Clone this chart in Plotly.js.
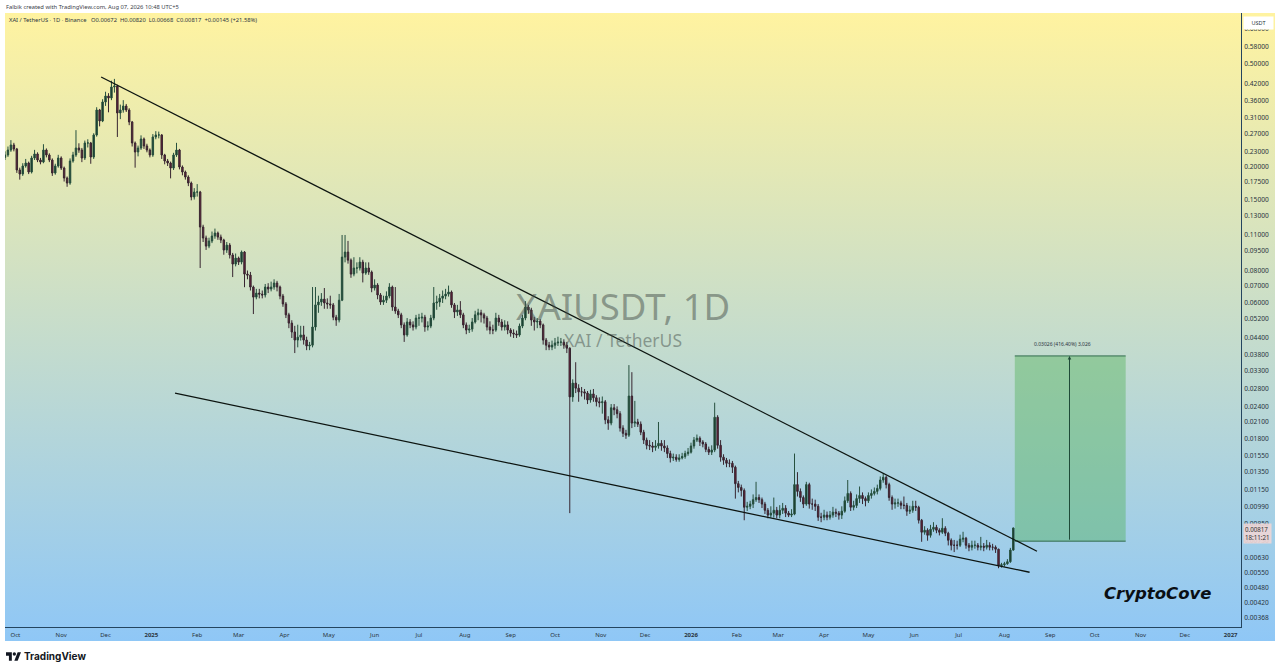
<!DOCTYPE html>
<html>
<head>
<meta charset="utf-8">
<title>XAIUSDT 1D</title>
<script src="https://cdn.plot.ly/plotly-3.0.1.min.js"></script>
<style>
  html, body { margin: 0; padding: 0; background: #ffffff; overflow: hidden; }
  #bg { position: absolute; left: 5px; top: 13px; width: 1270px; height: 628px;
        background: linear-gradient(to bottom, #fff3a0, #8fc7f6); }
  #chart { position: absolute; left: 0; top: 0; width: 1280px; height: 671px; }
  #logo { position: absolute; left: 6px; top: 652px; }
</style>
</head>
<body>
<div id="bg"></div>
<div id="chart"></div>
<svg id="logo" width="15" height="9" viewBox="0 0 36 20">
  <path d="M14 20H7V8H0V0h14z M28 20h-8L28 0h8z" fill="#131722"/>
  <circle cx="20" cy="4" r="4" fill="#131722"/>
</svg>
<script>
// candles are read every second day off the picture
let firstDay = '2024-09-24'
let stepDays = 2

let closes = [
  .2227,.2327,.2433,.2348,.1950,.1881,.2020,.2074,.1915,.2168,
  .2247,.2130,.2092,.2327,.2227,.2130,.1898,.2020,.2168,.1984,
  .1816,.1737,.2111,.2227,.2369,.2327,.2168,.2477,.2477,.2187,
  .2659,.3318,.3010,.3562,.3756,.3690,.4068,.4104,.3231,.3318,
  .3437,.3318,.2983,.2477,.2287,.2369,.2566,.2412,.2327,.2227,
  .2612,.2659,.2659,.2227,.2111,.2074,.1984,.2227,.2327,.2002,
  .1915,.1832,.1737,.1535,.1604,.1604,.1176,.1067,.0993,.1039,
  .1086,.1115,.1076,.1048,.0959,.1002,.0918,.0847,.0893,.0862,
  .0942,.0775,.0768,.0691,.0632,.0655,.0649,.0644,.0691,.0679,
  .0691,.0716,.0691,.0638,.0595,.0540,.0502,.0464,.0432,.0443,
  .0452,.0432,.0410,.0413,.0485,.0590,.0605,.0621,.0600,.0595,
  .0590,.0529,.0516,.0615,.0901,.0942,.0877,.0775,.0818,.0818,
  .0862,.0782,.0818,.0789,.0685,.0703,.0644,.0605,.0615,.0638,
  .0691,.0579,.0559,.0540,.0494,.0452,.0507,.0494,.0485,.0525,
  .0525,.0529,.0485,.0489,.0525,.0600,.0605,.0626,.0638,.0649,
  .0661,.0590,.0554,.0564,.0540,.0494,.0472,.0476,.0507,.0540,
  .0550,.0540,.0525,.0485,.0472,.0472,.0525,.0507,.0485,.0494,
  .0472,.0460,.0456,.0452,.0489,.0525,.0579,.0564,.0516,.0507,
  .0511,.0494,.0432,.0413,.0406,.0413,.0421,.0424,.0424,.0413,
  .0402,.0261,.0295,.0282,.0273,.0273,.0270,.0254,.0268,.0259,
  .0250,.0248,.0250,.0213,.0207,.0237,.0233,.0225,.0198,.0189,
  .0186,.0263,.0207,.0209,.0205,.0191,.0178,.0170,.0169,.0167,
  .0169,.0173,.0169,.0166,.0158,.0152,.0153,.0150,.0152,.0154,
  .0158,.0160,.0169,.0178,.0181,.0175,.0172,.0164,.0160,.0163,
  .0218,.0170,.0153,.0149,.0145,.0145,.0140,.0121,.0117,.0114,
  .00982,.00990,.0101,.0105,.0107,.0105,.0101,.00956,.00916,.00932,
  .00956,.00916,.00956,.00973,.00932,.00916,.00924,.0120,.0113,.0107,
  .0101,.0120,.0101,.0101,.00990,.00899,.00899,.00916,.00899,.00916,
  .00940,.00932,.00916,.00948,.0104,.0111,.00982,.00998,.0106,.0109,
  .0106,.0104,.0109,.0111,.0113,.0116,.0125,.0128,.0120,.0107,
  .0101,.0102,.0102,.0100,.00998,.00948,.00956,.00990,.00982,.00875,
  .00787,.00801,.00766,.00808,.00822,.00801,.00787,.00815,.00780,.00733,
  .00701,.00701,.00701,.00740,.00746,.00701,.00689,.00701,.00701,.00689,
  .00695,.00689,.00701,.00689,.00689,.00677,.00585,.00590,.00595,.00606,
  .00672,.00817
]

let opens = [
  .2180,.2227,.2327,.2433,.2348,.1950,.1881,.2020,.2074,.1915,
  .2168,.2247,.2130,.2092,.2327,.2227,.2130,.1898,.2020,.2168,
  .1984,.1816,.1737,.2111,.2227,.2369,.2327,.2168,.2477,.2477,
  .2187,.2659,.3318,.3010,.3562,.3756,.3690,.4068,.4104,.3231,
  .3318,.3437,.3318,.2983,.2477,.2287,.2369,.2566,.2412,.2327,
  .2227,.2612,.2659,.2659,.2227,.2111,.2074,.1984,.2227,.2327,
  .2002,.1915,.1832,.1737,.1535,.1604,.1604,.1176,.1067,.0993,
  .1039,.1086,.1115,.1076,.1048,.0959,.1002,.0918,.0847,.0893,
  .0862,.0942,.0775,.0768,.0691,.0632,.0655,.0649,.0644,.0691,
  .0679,.0691,.0716,.0691,.0638,.0595,.0540,.0502,.0464,.0432,
  .0443,.0452,.0432,.0410,.0413,.0485,.0590,.0605,.0621,.0600,
  .0595,.0590,.0529,.0516,.0615,.0901,.0942,.0877,.0775,.0818,
  .0818,.0862,.0782,.0818,.0789,.0685,.0703,.0644,.0605,.0615,
  .0638,.0691,.0579,.0559,.0540,.0494,.0452,.0507,.0494,.0485,
  .0525,.0525,.0529,.0485,.0489,.0525,.0600,.0605,.0626,.0638,
  .0649,.0661,.0590,.0554,.0564,.0540,.0494,.0472,.0476,.0507,
  .0540,.0550,.0540,.0525,.0485,.0472,.0472,.0525,.0507,.0485,
  .0494,.0472,.0460,.0456,.0452,.0489,.0525,.0579,.0564,.0516,
  .0507,.0511,.0494,.0432,.0413,.0406,.0413,.0421,.0424,.0424,
  .0413,.0402,.0261,.0295,.0282,.0273,.0273,.0270,.0254,.0268,
  .0259,.0250,.0248,.0250,.0213,.0207,.0237,.0233,.0225,.0198,
  .0189,.0186,.0263,.0207,.0209,.0205,.0191,.0178,.0170,.0169,
  .0167,.0169,.0173,.0169,.0166,.0158,.0152,.0153,.0150,.0152,
  .0154,.0158,.0160,.0169,.0178,.0181,.0175,.0172,.0164,.0160,
  .0163,.0218,.0170,.0153,.0149,.0145,.0145,.0140,.0121,.0117,
  .0114,.00982,.00990,.0101,.0105,.0107,.0105,.0101,.00956,.00916,
  .00932,.00956,.00916,.00956,.00973,.00932,.00916,.00924,.0120,.0113,
  .0107,.0101,.0120,.0101,.0101,.00990,.00899,.00899,.00916,.00899,
  .00916,.00940,.00932,.00916,.00948,.0104,.0111,.00982,.00998,.0106,
  .0109,.0106,.0104,.0109,.0111,.0113,.0116,.0125,.0128,.0120,
  .0107,.0101,.0102,.0102,.0100,.00998,.00948,.00956,.00990,.00982,
  .00875,.00787,.00801,.00766,.00808,.00822,.00801,.00787,.00815,.00780,
  .00733,.00701,.00701,.00701,.00740,.00746,.00701,.00689,.00701,.00701,
  .00689,.00695,.00689,.00701,.00689,.00689,.00677,.00585,.00590,.00595,
  .00606,.00672
]

let highs = [
  .2300,.2400,.2540,.2480,.2370,.1990,.2070,.2150,.2100,.2210,
  .2330,.2280,.2170,.2450,.2360,.2260,.2160,.2060,.2230,.2200,
  .2010,.1840,.2160,.2290,.2775,.2470,.2370,.2530,.2560,.2500,
  .2700,.3400,.3350,.3650,.3900,.3850,.4300,.4370,.4150,.3480,
  .3620,.3500,.3370,.3010,.2510,.2420,.2650,.2600,.2460,.2360,
  .2680,.2750,.2740,.2680,.2250,.2150,.2100,.2270,.2480,.2350,
  .2030,.1940,.1860,.1760,.1660,.1720,.1620,.1200,.1090,.1070,
  .1130,.1160,.1130,.1100,.1060,.1030,.1020,.0935,.0930,.0905,
  .0955,.0950,.0800,.0790,.0700,.0680,.0680,.0670,.0710,.0715,
  .0725,.0740,.0730,.0700,.0650,.0605,.0550,.0515,.0490,.0495,
  .0490,.0490,.0445,.0425,.0691,.0691,.0640,.0655,.0685,.0625,
  .0640,.0600,.0540,.0650,.1096,.1096,.1040,.0890,.0900,.0860,
  .0900,.0880,.0860,.0860,.0800,.0740,.0715,.0655,.0640,.0665,
  .0715,.0700,.0691,.0570,.0550,.0505,.0525,.0520,.0510,.0540,
  .0545,.0550,.0540,.0510,.0540,.0691,.0640,.0650,.0670,.0680,
  .0700,.0670,.0600,.0590,.0610,.0550,.0505,.0495,.0525,.0560,
  .0570,.0565,.0550,.0535,.0510,.0495,.0550,.0540,.0520,.0515,
  .0510,.0480,.0475,.0470,.0500,.0540,.0610,.0590,.0575,.0530,
  .0525,.0520,.0500,.0440,.0425,.0430,.0440,.0445,.0440,.0435,
  .0425,.0405,.0305,.0355,.0292,.0285,.0280,.0275,.0278,.0280,
  .0265,.0260,.0262,.0254,.0220,.0245,.0245,.0240,.0230,.0203,
  .0195,.0346,.0325,.0252,.0215,.0210,.0195,.0182,.0178,.0175,
  .0178,.0209,.0178,.0178,.0170,.0162,.0158,.0157,.0157,.0159,
  .0162,.0166,.0174,.0183,.0187,.0184,.0178,.0175,.0168,.0170,
  .0248,.0222,.0178,.0157,.0152,.0150,.0148,.0142,.0124,.0120,
  .0116,.0103,.0104,.0110,.0123,.0110,.0107,.0103,.00975,.00990,
  .0107,.00985,.0100,.0102,.0100,.00950,.00965,.0158,.0134,.0116,
  .0109,.0123,.0122,.0106,.0105,.0101,.00935,.00960,.00945,.00950,
  .00985,.00970,.00950,.00990,.0108,.0125,.0113,.0104,.0110,.0118,
  .0112,.0108,.0112,.0115,.0117,.0120,.0129,.0133,.0130,.0122,
  .0109,.0106,.0106,.0104,.0108,.0102,.00995,.0104,.0104,.00995,
  .00885,.00830,.00815,.00840,.00860,.00840,.00815,.00891,.00830,.00790,
  .00745,.00735,.00730,.00770,.00790,.00755,.00715,.00730,.00730,.00715,
  .00755,.00715,.00735,.00720,.00710,.00700,.00680,.00600,.00605,.00620,
  .00685,.00820
]

let lows = [
  .2130,.2190,.2290,.2300,.1900,.1790,.1850,.1990,.1880,.1890,
  .2130,.2090,.2050,.2070,.2180,.2090,.1850,.1870,.1990,.1950,
  .1760,.1680,.1710,.2080,.2190,.2270,.2090,.2130,.2380,.2060,
  .2150,.2620,.2870,.2980,.3440,.3250,.3620,.3870,.2612,.3060,
  .3240,.3260,.2900,.2400,.1990,.2200,.2330,.2350,.2280,.2180,
  .2190,.2560,.2580,.2150,.2050,.2020,.1810,.1950,.2190,.1960,
  .1860,.1790,.1690,.1490,.1500,.1540,.0818,.1030,.0960,.0975,
  .1020,.1060,.1050,.1020,.0920,.0935,.0890,.0755,.0830,.0840,
  .0845,.0690,.0740,.0670,.0544,.0620,.0625,.0625,.0630,.0655,
  .0665,.0675,.0665,.0620,.0580,.0525,.0480,.0440,.0385,.0405,
  .0430,.0415,.0395,.0395,.0405,.0470,.0550,.0585,.0570,.0570,
  .0570,.0515,.0490,.0505,.0610,.0860,.0850,.0750,.0760,.0780,
  .0800,.0720,.0770,.0770,.0660,.0670,.0620,.0590,.0590,.0600,
  .0625,.0560,.0545,.0525,.0480,.0425,.0445,.0480,.0470,.0475,
  .0490,.0505,.0465,.0470,.0480,.0515,.0565,.0580,.0600,.0620,
  .0635,.0575,.0525,.0535,.0525,.0480,.0455,.0460,.0465,.0500,
  .0515,.0505,.0500,.0470,.0455,.0455,.0465,.0490,.0470,.0470,
  .0455,.0445,.0440,.0440,.0445,.0480,.0515,.0545,.0490,.0470,
  .0480,.0480,.0415,.0395,.0395,.0395,.0400,.0410,.0410,.0400,
  .0385,.00932,.0250,.0270,.0250,.0262,.0255,.0245,.0248,.0250,
  .0240,.0238,.0225,.0205,.0195,.0203,.0222,.0216,.0192,.0183,
  .0180,.0183,.0198,.0200,.0200,.0186,.0172,.0164,.0163,.0160,
  .0162,.0165,.0162,.0160,.0152,.0146,.0148,.0147,.0147,.0150,
  .0151,.0155,.0158,.0165,.0175,.0169,.0167,.0160,.0156,.0156,
  .0160,.0165,.0147,.0143,.0140,.0140,.0133,.0106,.0112,.0108,
  .00875,.00950,.00965,.00975,.0103,.0102,.00975,.00925,.00890,.00895,
  .00895,.00890,.00890,.00925,.00900,.00900,.00900,.00915,.0108,.0103,
  .00975,.00995,.00970,.00960,.00950,.00870,.00860,.00875,.00875,.00880,
  .00895,.00900,.00880,.00885,.00935,.0102,.00950,.00955,.00975,.0102,
  .0101,.00990,.0102,.0106,.0109,.0110,.0114,.0122,.0116,.0104,
  .00960,.00970,.00985,.00965,.00965,.00910,.00925,.00935,.00950,.00850,
  .00723,.00770,.00730,.00750,.00790,.00780,.00765,.00775,.00760,.00700,
  .00670,.00660,.00675,.00690,.00720,.00680,.00665,.00670,.00680,.00670,
  .00670,.00665,.00675,.00670,.00670,.00655,.00572,.00575,.00580,.00590,
  .00600,.00668
]

// right price scale
let priceTicks = [.68,.58,.5,.42,.36,.31,.27,.23,.2,.175,.15,.13,.11,.095,.08,.07,.06,.052,.044,.038,.033,.028,.024,.021,.018,.0155,.0135,.0115,.0099,.0085,.0073,.0063,.0055,.0048,.0042,.00368]
let priceLabels = ['0.68000','0.58000','0.50000','0.42000','0.36000','0.31000','0.27000','0.23000','0.20000','0.17500','0.15000','0.13000','0.11000','0.09500','0.08000','0.07000','0.06000','0.05200','0.04400','0.03800','0.03300','0.02800','0.02400','0.02100','0.01800','0.01550','0.01350','0.01150','0.00990','0.00850','0.00730','0.00630','0.00550','0.00480','0.00420','0.00368']

// bottom time scale
let monthTicks = ['2024-10-01','2024-11-01','2024-12-01','2025-01-01','2025-02-01','2025-03-01','2025-04-01','2025-05-01','2025-06-01','2025-07-01','2025-08-01','2025-09-01','2025-10-01','2025-11-01','2025-12-01','2026-01-01','2026-02-01','2026-03-01','2026-04-01','2026-05-01','2026-06-01','2026-07-01','2026-08-01','2026-09-01','2026-10-01','2026-11-01','2026-12-01','2027-01-01']
let monthLabels = ['Oct','Nov','Dec','<b>2025</b>','Feb','Mar','Apr','May','Jun','Jul','Aug','Sep','Oct','Nov','Dec','<b>2026</b>','Feb','Mar','Apr','May','Jun','Jul','Aug','Sep','Oct','Nov','Dec','<b>2027</b>']

// drawings on the chart
let upperTrend = {x: ['2024-11-28','2026-08-23'], y: [.4445,.00665]}
let lowerTrend = {x: ['2025-01-17','2026-08-18'], y: [.0270,.00552]}
let targetBox = {x: ['2026-08-08','2026-10-22'], y: [.00727,.03753]}
let targetMid = '2026-09-14'

let days = closes.map((c, i) => {
    let d = new Date(firstDay + 'T00:00:00Z')
    d.setUTCDate(d.getUTCDate() + i * stepDays)
    return d.toISOString().slice(0, 10)
})

let candles = {
    type: 'candlestick',
    x: days,
    open: opens,
    high: highs,
    low: lows,
    close: closes,
    whiskerwidth: 0,
    hoverinfo: 'skip',
    increasing: {line: {color: '#26503e', width: 1}, fillcolor: '#17352a'},
    decreasing: {line: {color: '#372530', width: 1}, fillcolor: '#6a1f38'}
}

let trendLine = {color: '#0c1410', width: 1.3}
let boxEdge = {color: '#2f6a4c', width: 1}

let layout = {
    width: 1280,
    height: 671,
    margin: {l: 5, r: 39, t: 13, b: 44},
    paper_bgcolor: 'rgba(0,0,0,0)',
    plot_bgcolor: 'rgba(0,0,0,0)',
    showlegend: false,
    dragmode: false,
    font: {family: 'Noto Sans', size: 6, color: '#2a3440'},
    xaxis: {
        type: 'date',
        range: ['2024-09-24', '2027-01-08'],
        rangeslider: {visible: false},
        tickmode: 'array',
        tickvals: monthTicks,
        ticktext: monthLabels,
        tickangle: 0,
        showgrid: false,
        zeroline: false,
        showline: true,
        linecolor: '#24455f',
        linewidth: 1,
        ticks: 'outside',
        ticklen: 2,
        tickcolor: 'rgba(0,0,0,0)',
        tickfont: {family: 'Noto Sans', size: 6, color: '#2a3440'}
    },
    yaxis: {
        type: 'log',
        side: 'right',
        range: [-2.4688, -0.1059],
        tickmode: 'array',
        tickvals: priceTicks,
        ticktext: priceLabels,
        showgrid: false,
        zeroline: false,
        showline: true,
        linecolor: '#24455f',
        linewidth: 1,
        ticks: '',
        ticklabelstandoff: 1,
        tickfont: {family: 'Noto Sans', size: 6.6, color: '#2a3440'}
    },
    shapes: [
        {type: 'rect', xref: 'x', yref: 'y', x0: targetBox.x[0], x1: targetBox.x[1], y0: targetBox.y[0], y1: targetBox.y[1], fillcolor: 'rgba(76,175,80,0.4)', line: {width: 0}, layer: 'above'},
        {type: 'line', xref: 'x', yref: 'y', x0: targetBox.x[0], x1: targetBox.x[1], y0: targetBox.y[1], y1: targetBox.y[1], line: boxEdge},
        {type: 'line', xref: 'x', yref: 'y', x0: targetBox.x[0], x1: targetBox.x[1], y0: targetBox.y[0], y1: targetBox.y[0], line: boxEdge},
        {type: 'line', xref: 'x', yref: 'y', x0: upperTrend.x[0], x1: upperTrend.x[1], y0: upperTrend.y[0], y1: upperTrend.y[1], line: trendLine},
        {type: 'line', xref: 'x', yref: 'y', x0: lowerTrend.x[0], x1: lowerTrend.x[1], y0: lowerTrend.y[0], y1: lowerTrend.y[1], line: trendLine}
    ],
    annotations: [
        // vertical arrow of the measure box, annotation y on a log axis is log10
        {xref: 'x', yref: 'y', axref: 'x', ayref: 'y', x: targetMid, y: Math.log10(targetBox.y[1]), ax: targetMid, ay: Math.log10(targetBox.y[0]), text: '', showarrow: true, arrowhead: 2, arrowsize: 0.7, arrowwidth: 1, arrowcolor: '#1f4a38'},
        {xref: 'x', yref: 'y', x: '2026-09-09', y: Math.log10(targetBox.y[1]), yshift: 12, text: '0.03026 (416.40%) 3,026', showarrow: false, font: {family: 'Noto Sans', size: 5, color: '#2a3440'}},

        // watermark
        {xref: 'paper', yref: 'paper', x: 0.5004, y: 0.5220, text: 'XAIUSDT, 1D', showarrow: false, font: {family: 'Noto Sans', size: 36.5, color: 'rgba(70,80,75,0.5)'}},
        {xref: 'paper', yref: 'paper', x: 0.5004, y: 0.4668, text: 'XAI / TetherUS', showarrow: false, font: {family: 'Noto Sans', size: 17.5, color: 'rgba(70,80,75,0.5)'}},

        // legend line and author line
        {xref: 'paper', yref: 'paper', x: 0.0015, y: 0.9983, xanchor: 'left', text: 'XAI / TetherUS · 1D · Binance   O0.00672  H0.00820  L0.00668  C0.00817  +0.00145 (+21.58%)', showarrow: false, font: {family: 'Noto Sans', size: 5.8, color: '#2a3440'}},
        {xref: 'paper', yref: 'paper', x: -0.001, y: 1.0196, xanchor: 'left', text: 'Falbik created with TradingView.com, Aug 07, 2026 10:48 UTC+5', showarrow: false, font: {family: 'Noto Sans', size: 5.8, color: '#3a4048'}},

        // scale boxes
        {xref: 'paper', yref: 'paper', x: 1.0016, y: 0.9951, xanchor: 'left', text: 'USDT', showarrow: false, bgcolor: '#ffffff', width: 25, height: 8, borderpad: 2, font: {family: 'Noto Sans', size: 5.5, color: '#2a3440'}},
        {xref: 'paper', yref: 'paper', x: 1.0016, y: 0.1354, xanchor: 'left', align: 'left', text: '0.00817<br>18:11:21', showarrow: false, bgcolor: 'rgba(238,214,214,0.9)', borderpad: 1, font: {family: 'Noto Sans', size: 6.2, color: '#333333'}},

        {xref: 'paper', yref: 'paper', x: 0.8875, y: 0.0360, xanchor: 'left', text: '<b><i>CryptoCove</i></b>', showarrow: false, font: {family: 'DejaVu Sans', size: 16.5, color: '#0a0f14'}},

        {xref: 'paper', yref: 'paper', x: 0.0135, y: -0.0619, xanchor: 'left', text: '<b>TradingView</b>', showarrow: false, font: {family: 'Inter', size: 10, color: '#131722'}}
    ]
}

Plotly.newPlot('chart', [candles], layout, {displayModeBar: false, staticPlot: true})
</script>
</body>
</html>
